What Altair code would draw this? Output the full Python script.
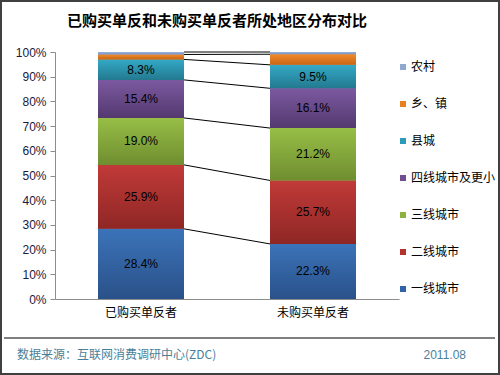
import altair as alt
import numpy as np
import pandas as pd

title_text = "已购买单反和未购买单反者所处地区分布对比"
source_text = "数据来源：互联网消费调研中心(ZDC)"
date_text = "2011.08"

categories = ["已购买单反者", "未购买单反者"]
series = ["一线城市", "二线城市", "三线城市", "四线城市及更小", "县城", "乡、镇", "农村"]
bought = [28.4, 25.9, 19.0, 15.4, 8.3, 2.0, 1.0]
not_bought = [22.3, 25.7, 21.2, 16.1, 9.5, 4.3, 0.9]
show_label = [True, True, True, True, True, False, False]
colors = ["#3163A6", "#B3312F", "#8CB13F", "#6F4F8E", "#2C9BB7", "#E8801F", "#8EA8D2"]
top_colors = ["#3B73B9", "#C03A38", "#97BE46", "#7B59A0", "#34A9C7", "#F38B2B", "#9BB4DB"]
bottom_colors = ["#2A5189", "#8F2725", "#6F8E30", "#54396F", "#23798F", "#C86514", "#7890BE"]
y_ticks = [0, 10, 20, 30, 40, 50, 60, 70, 80, 90, 100]

rows = []
for cat, vals in zip(categories, [bought, not_bought]):
    for i, (s, v) in enumerate(zip(series, vals)):
        rows.append(dict(cat=cat, series=s, val=v, order=i, show=show_label[i]))
df = pd.DataFrame(rows)

links = pd.DataFrame(dict(
    c1=categories[0], c2=categories[1],
    y1=np.cumsum(bought), y2=np.cumsum(not_bought)))

W, H = 344, 247
L, T = 55, 52

xscale = alt.Scale(domain=categories, paddingInner=0.5, paddingOuter=0.25)
yscale = alt.Scale(domain=[0, 100], nice=False)
xaxis = alt.Axis(title=None, labelFont="Noto Sans CJK SC", labelFontSize=12, labelColor="#000000",
                 labelPadding=8, ticks=False, domainColor="#8c8c8c", labelAngle=0)
yaxis = alt.Axis(title=None, values=y_ticks, labelExpr="datum.value + '%'", grid=False,
                 labelFont="Liberation Sans", labelFontSize=12, labelColor="#1a1a40",
                 tickColor="#8c8c8c", domainColor="#8c8c8c", tickSize=5, labelPadding=4)

bars = alt.Chart(df).mark_bar().encode(
    x=alt.X("cat:N", scale=xscale, axis=xaxis, sort=categories),
    y=alt.Y("val:Q", stack="zero", scale=yscale, axis=yaxis),
    color=alt.Color("series:N", sort=series[::-1],
                    scale=alt.Scale(domain=series[::-1], range=colors[::-1]),
                    legend=alt.Legend(title=None, orient="none", legendX=342, legendY=9,
                                      symbolType="square", symbolSize=36, symbolStrokeWidth=0,
                                      labelFont="Noto Sans CJK SC", labelFontSize=12,
                                      labelColor="#000000", rowPadding=25, padding=0,
                                      labelOffset=2, labelLimit=200)),
    order=alt.Order("order:Q", sort="ascending"),
)

stacked = alt.Chart(df).transform_stack(
    stack="val", groupby=["cat"], as_=["y0", "y1"],
    sort=[alt.SortField("order", order="ascending")]
)

grad_layers = []
for i, s in enumerate(series):
    grad = alt.LinearGradient(
        gradient="linear", x1=0, y1=0, x2=0, y2=1,
        stops=[alt.GradientStop(offset=0, color=top_colors[i]),
               alt.GradientStop(offset=1, color=bottom_colors[i])])
    grad_layers.append(
        stacked.transform_filter(alt.datum.series == s).mark_bar(color=grad).encode(
            x=alt.X("cat:N", scale=xscale, axis=xaxis, sort=categories),
            y=alt.Y("y1:Q", scale=yscale, axis=yaxis),
            y2="y0:Q",
        )
    )

labels = stacked.transform_filter("datum.show").transform_calculate(
    mid="(datum.y0 + datum.y1) / 2",
    lab="format(datum.val, '.1f') + '%'"
).mark_text(font="Liberation Sans", fontSize=12, color="#000000").encode(
    x=alt.X("cat:N", scale=xscale, axis=xaxis, sort=categories),
    y=alt.Y("mid:Q", scale=yscale, axis=yaxis),
    text="lab:N",
)

rules = alt.Chart(links).mark_rule(color="#000000", strokeWidth=1).encode(
    x=alt.X("c1:N", scale=xscale, axis=xaxis, sort=categories, bandPosition=1),
    x2=alt.X2("c2", bandPosition=0),
    y=alt.Y("y1:Q", scale=yscale, axis=yaxis),
    y2="y2:Q",
)

title = alt.Chart(pd.DataFrame({"t": [title_text]})).mark_text(
    font="Noto Sans CJK SC", fontSize=15, fontWeight="bold", color="#000000", baseline="middle"
).encode(x=alt.value(162), y=alt.value(-31), text="t:N")

source = alt.Chart(pd.DataFrame({"t": [source_text]})).mark_text(
    font="Noto Sans CJK SC", fontSize=12, color="#4A7F9A", align="left", baseline="middle"
).encode(x=alt.value(-38), y=alt.value(303), text="t:N")

date = alt.Chart(pd.DataFrame({"t": [date_text]})).mark_text(
    font="Liberation Sans", fontSize=12, color="#4A7F9A", align="right", baseline="middle"
).encode(x=alt.value(411), y=alt.value(303), text="t:N")

footer_line = alt.Chart(pd.DataFrame({"a": [0]})).mark_rule(color="#000000", strokeWidth=1).encode(
    x=alt.value(-51), x2=alt.value(440), y=alt.value(286))

border = alt.Chart(pd.DataFrame({"a": [0]})).mark_rect(
    fillOpacity=0, stroke="#404040", strokeWidth=2).encode(
    x=alt.value(-54), x2=alt.value(444), y=alt.value(-51), y2=alt.value(322))

chart = alt.layer(bars, *grad_layers, rules, labels, title, source, date, footer_line, border).properties(
    width=W, height=H,
    autosize=alt.AutoSizeParams(type="none"),
    padding={"left": L, "top": T, "right": 500 - L - W, "bottom": 375 - T - H},
    background="#ffffff",
).configure_view(stroke=None)

chart.save("out.html", embed_options={"renderer": "svg", "actions": False})
